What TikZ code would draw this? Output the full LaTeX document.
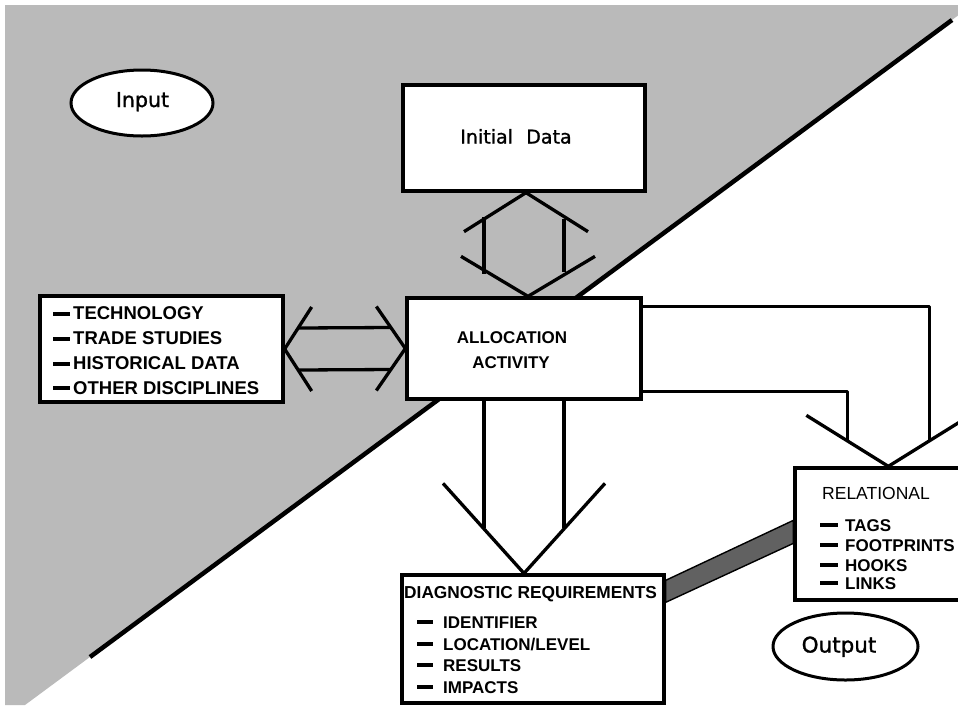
\documentclass[tikz,border=0pt]{standalone}
\usepackage{fontspec}
\setmainfont{Liberation Sans}
\newfontfamily\roundfont[FakeBold=1.2]{DejaVu Sans}
\usetikzlibrary{calc,shapes.geometric,backgrounds}

% thick bar used in front of list entries
\newcommand\itemdash[1]{\rule[4pt]{#1}{3.6pt}}

\begin{document}
\begin{tikzpicture}[x=1pt,y=-1pt,
  box/.style={draw,line width=3.3pt,fill=white,inner sep=0pt},
  oval/.style={draw,ellipse,line width=3pt,fill=white,inner sep=0pt},
  conn/.style={line width=3.3pt,line join=round},
  caps/.style={inner sep=0pt,anchor=base west,font=\bfseries\fontsize{17}{20}\selectfont},
  bigcaps/.style={inner sep=0pt,anchor=base west,font=\bfseries\fontsize{18.5}{22}\selectfont},
  plaincaps/.style={inner sep=0pt,anchor=base west,font=\fontsize{17.5}{20}\selectfont},
  roundtxt/.style={inner sep=0pt,anchor=base,font=\roundfont\fontsize{#1}{24}\selectfont}
]
\useasboundingbox (0,0) rectangle (958,705);
\clip (0,0) rectangle (958,705);

% ---- boxes and ovals ----
\node[oval,minimum width=142pt,minimum height=66pt] (input) at (142,103) {};
\node[oval,minimum width=145pt,minimum height=67pt] (output) at (845.5,646.5) {};
\node[box,minimum width=242pt,minimum height=106pt] (init) at (524,138) {};
\node[box,minimum width=234pt,minimum height=101pt] (alloc) at (524,348.5) {};
\node[box,minimum width=243pt,minimum height=106pt] (lbox) at (161.5,349) {};
\node[box,minimum width=262pt,minimum height=128pt] (diag) at (533,639) {};
\node[box,minimum width=195pt,minimum height=132pt] (rel) at (892.5,534) {};

% ---- texts ----
\node[roundtxt=20.5] (inputtxt) at (142.5,107) {Input};
\node[roundtxt=21.5] (outputtxt) at (839,652.5) {Output};
\node[roundtxt=19] (inittxt) at (516,143.5) {Initial\hspace{0.7em}Data};

\node[caps,anchor=base] (alloctxta) at (512,343) {ALLOCATION};
\node[caps,anchor=base] (alloctxtb) at (511,368) {ACTIVITY};

\node[bigcaps] (lbi) at (53,319.5) {\itemdash{17pt}\hspace{3pt}TECHNOLOGY};
\node[bigcaps] (lbii) at (53,344.5) {\itemdash{17pt}\hspace{3pt}TRADE STUDIES};
\node[bigcaps] (lbiii) at (53,369.5) {\itemdash{17pt}\hspace{3pt}HISTORICAL DATA};
\node[bigcaps] (lbiv) at (53,394) {\itemdash{17pt}\hspace{3pt}OTHER DISCIPLINES};

\node[caps,font=\bfseries\fontsize{17.3}{20}\selectfont] (diagtitle) at (404,598.5) {DIAGNOSTIC REQUIREMENTS};
\node[caps] (dgi) at (417,628) {\itemdash{16pt}\hspace{10pt}IDENTIFIER};
\node[caps] (dgii) at (417,650) {\itemdash{16pt}\hspace{10pt}LOCATION/LEVEL};
\node[caps] (dgiii) at (417,671) {\itemdash{16pt}\hspace{10pt}RESULTS};
\node[caps] (dgiv) at (417,693) {\itemdash{16pt}\hspace{10pt}IMPACTS};

\node[plaincaps] (reltitle) at (822,499) {RELATIONAL};
\node[caps] (rli) at (820,531) {\itemdash{18pt}\hspace{7pt}TAGS};
\node[caps] (rlii) at (820,551) {\itemdash{18pt}\hspace{7pt}FOOTPRINTS};
\node[caps] (rliii) at (820,571) {\itemdash{18pt}\hspace{7pt}HOOKS};
\node[caps] (rliv) at (820,589) {\itemdash{18pt}\hspace{7pt}LINKS};

% ---- everything below sits behind the boxes ----
\begin{scope}[on background layer]
  % shaded half of the sheet
  \fill[black!27] (5,5) -- (958,5) -- (958,15.5) -- (25,705) -- (5,705) -- cycle;
  % dividing line
  \coordinate (dA) at (90,657);
  \coordinate (dB) at (952,20);
  \draw[line width=4.5pt] (dA) -- (dB);

  % left box <-> allocation
  \draw[conn] ($(lbox.east)+(27,-42)$) -- (lbox.east) -- ($(lbox.east)+(27,42)$);
  \draw[conn] ($(alloc.west)+(-29,-42)$) -- (alloc.west) -- ($(alloc.west)+(-29,42)$);
  \draw[conn] ($(lbox.east)+(13.5,-21)$) -- ($(alloc.west)+(-14.5,-21)$);
  \draw[conn] ($(lbox.east)+(13.5,21)$) -- ($(alloc.west)+(-14.5,21)$);

  % initial data <-> allocation
  \coordinate (itip) at ($(init.south)+(2,0)$);
  \coordinate (atip) at ($(alloc.north)+(4,0)$);
  \draw[conn] ($(itip)+(-62,39)$) -- (itip) -- ($(itip)+(62,39)$);
  \draw[conn] ($(atip)+(-67,-40)$) -- (atip) -- ($(atip)+(67,-40)$);
  \draw[conn] ($(init.south)+(-40,24.5)$) -- ($(alloc.north)+(-40,-22)$);
  \draw[conn] ($(init.south)+(40,26)$) -- ($(alloc.north)+(40,-24.5)$);

  % allocation -> diagnostic requirements
  \coordinate (dtip) at (alloc.south |- diag.north);
  \draw[conn] ($(dtip)+(-81,-90)$) -- (dtip) -- ($(dtip)+(81,-90)$);
  \draw[conn] ($(alloc.south)+(-40,0)$) -- ($(dtip)+(-40,-45.6)$);
  \draw[conn] ($(alloc.south)+(40,0)$) -- ($(dtip)+(40,-45.6)$);

  % allocation -> relational
  \coordinate (rtip) at ($(rel.north west)+(95,0)$);
  \draw[conn] ($(rtip)+(-82,-51)$) -- (rtip) -- ($(rtip)+(82,-51)$);
  \draw[conn] ($(alloc.north east)+(0,10)$) -| ($(rtip)+(41,-25.5)$);
  \draw[conn] ($(alloc.south east)+(0,-9)$) -| ($(rtip)+(-41,-25.5)$);

  % link between diagnostic requirements and relational
  \filldraw[fill=black!62,draw=black,line width=1.4pt]
    ($(diag.north east)+(0,7)$) -- ($(rel.north west)+(0,54)$)
    -- ($(rel.north west)+(0,77)$) -- ($(diag.north east)+(0,29)$) -- cycle;
\end{scope}
\end{tikzpicture}
\end{document}
